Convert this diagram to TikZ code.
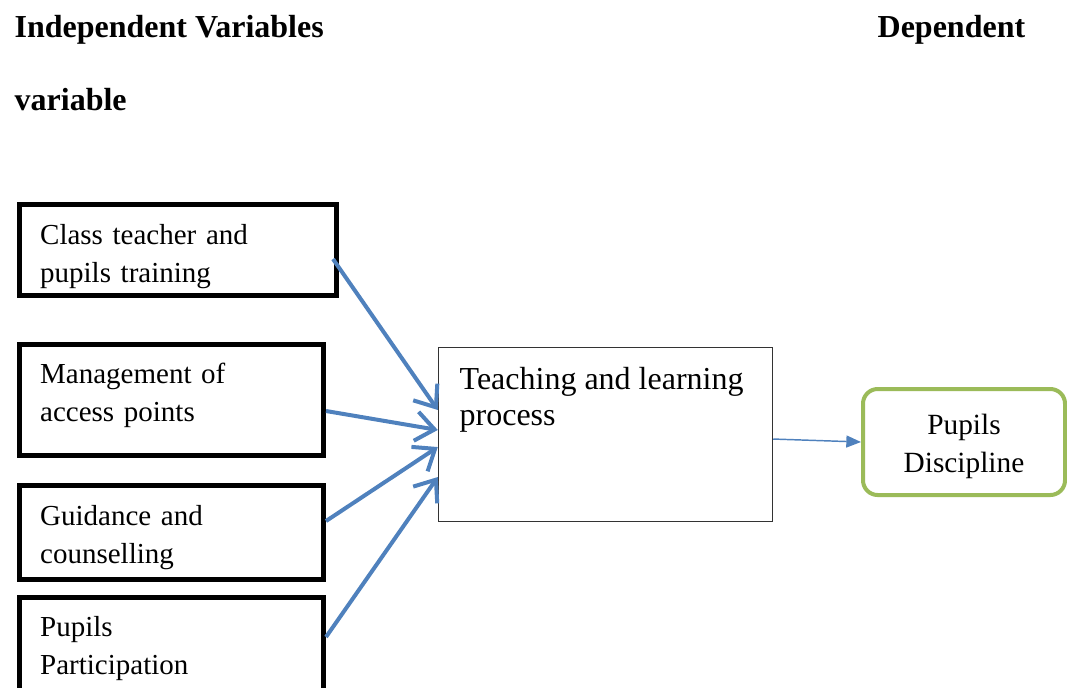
\documentclass[tikz,border=0pt]{standalone}
\usepackage{fontspec}
\setmainfont{Liberation Serif}
\usetikzlibrary{arrows.meta}

\definecolor{arrowblue}{RGB}{79,129,189}
\definecolor{olivegreen}{RGB}{155,187,89}

\begin{document}
\begin{tikzpicture}[x=0.75pt, y=-0.75pt, line width=1pt,
  factor/.style={draw, line width=3.75pt, anchor=north west, align=left,
    inner xsep=15.5pt, inner ysep=0pt, font=\fontsize{21.75}{28.5}\selectfont},
  heading/.style={anchor=base west, inner sep=0pt, font=\fontsize{24}{28}\selectfont\bfseries},
  link/.style={draw=arrowblue, line width=3pt, -{Straight Barb[length=14pt, width=22pt]}}]

% Page frame
\clip (0,0) rectangle (1067,687);

% Headings
\node[heading] (indep) at (14,37) {Independent Variables};
\node[heading] (dep) at (877,37) {Dependent};
\node[heading] (var) at (14,110) {variable};

% Independent variable boxes (struts \hh and \dd set the text height)
\foreach \name/\top/\tw/\h/\hh/\dd/\txt in {
    training/202/206.75/68.25/25.5/4.8/{Class teacher and\\pupils training},
    access/342/197/83.25/15/12.3/{Management of\\access points},
    guidance/483/197/70.5/22.5/4.8/{Guidance and\\counselling},
    participation/595/197/72.75/19.5/4.8/{Pupils\\Participation}
  }
{
  \node[factor, text width=\tw pt, minimum height=\h pt] (\name) at (17,\top)
    {\rule{0pt}{\hh pt}\txt\rule[-\dd pt]{0pt}{0pt}};
}

% Process box
\node[draw=black!80, line width=1.1pt, minimum width=250.5pt, minimum height=130.5pt, inner sep=0pt] (process) at (605.5,434.5) {};
\node[anchor=north west, inner sep=0pt, align=left, font=\fontsize{24}{27}\selectfont] (processtext) at (459,367) {Teaching and learning\\process};

% Dependent variable
\node[draw=olivegreen, line width=3pt, rounded corners=11pt, minimum width=151.5pt, minimum height=79.5pt,
  align=center, font=\fontsize{22}{28.5}\selectfont] (discipline) at (964,442)
  {\rule{0pt}{22.5pt}Pupils\\Discipline\rule[-4.8pt]{0pt}{0pt}};

% Arrows into the process
\foreach \name/\sx/\sy/\ey in {
    training/-4.5/-6.75/18.4,
    access/0/-8.25/3.4,
    guidance/0/8.6/-9.4,
    participation/0/6.75/-31.9
  }
{
  \draw[link] ([xshift=\sx pt, yshift=\sy pt]\name.east) -- ([yshift=\ey pt]process.west);
}

% Process to discipline
\draw[draw=arrowblue, line width=1.1pt, -{Triangle[length=11pt, width=9pt]}] ([yshift=-3.4pt]process.east) -- (discipline.west);

\end{tikzpicture}
\end{document}
